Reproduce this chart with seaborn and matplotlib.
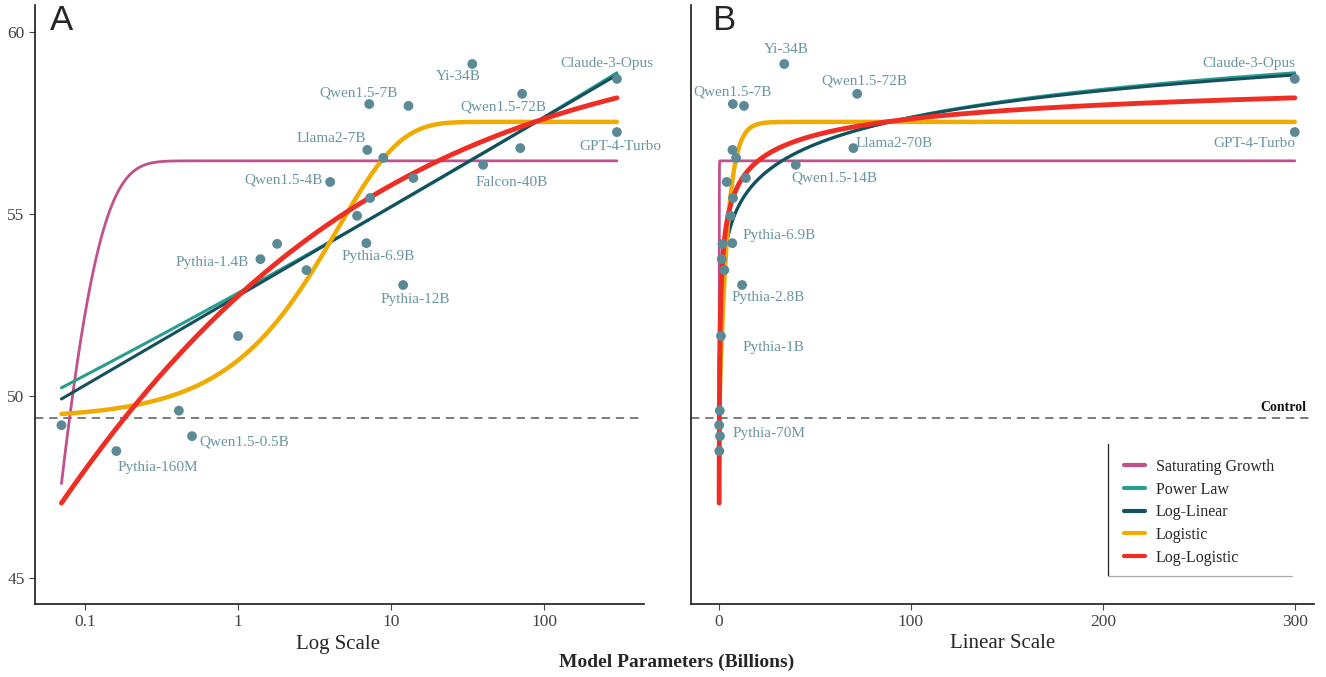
import numpy as np
import pandas as pd
import matplotlib.pyplot as plt
from matplotlib.lines import Line2D
import seaborn as sns

# Model scores
models = ["Pythia-70M", "Pythia-160M", "Pythia-410M", "Qwen1.5-0.5B", "Pythia-1B",
          "Pythia-1.4B", "Qwen1.5-1.8B", "Pythia-2.8B", "Qwen1.5-4B", "Yi-6B",
          "Pythia-6.9B", "Llama2-7B", "Qwen1.5-7B", "Mistral-7B", "Yi-9B",
          "Pythia-12B", "Llama2-13B", "Qwen1.5-14B", "Yi-34B", "Falcon-40B",
          "Llama2-70B", "Qwen1.5-72B", "Claude-3-Opus", "GPT-4-Turbo"]
params = [0.07, 0.16, 0.41, 0.5, 1.0, 1.4, 1.8, 2.8, 4.0, 6.0, 6.9, 7.0, 7.2, 7.3, 8.9,
          12.0, 13.0, 14.0, 34.0, 40.0, 70.0, 72.0, 300.0, 300.0]
scores = [49.2, 48.49, 49.6, 48.9, 51.65, 53.76, 54.18, 53.46, 55.88, 54.95,
          54.2, 56.76, 58.02, 55.44, 56.54, 53.05, 57.97, 55.99, 59.12, 56.35,
          56.81, 58.3, 58.71, 57.25]
control = 49.4

# labels shown on each panel, with offsets in pixels
labels_a = {"Claude-3-Opus": (-10, 15), "Yi-34B": (-14, -13), "Qwen1.5-7B": (-11, 11),
            "Qwen1.5-72B": (-19, -13), "Llama2-7B": (-36, 11), "GPT-4-Turbo": (3, -14),
            "Qwen1.5-4B": (-47, 2), "Falcon-40B": (29, -18), "Pythia-1.4B": (-48, -3),
            "Pythia-6.9B": (12, -13), "Pythia-12B": (12, -14), "Qwen1.5-0.5B": (52, -6),
            "Pythia-160M": (41, -16)}
labels_b = {"Yi-34B": (2, 14), "Qwen1.5-7B": (0, 12), "Qwen1.5-72B": (7, 13),
            "Llama2-70B": (41, 5), "Qwen1.5-14B": (88, 0), "Pythia-6.9B": (47, 8),
            "Pythia-2.8B": (44, -27), "Pythia-1B": (53, -12), "Pythia-70M": (50, -8),
            "Claude-3-Opus": (-46, 15), "GPT-4-Turbo": (-40, -11)}

# fitted curve parameters (estimated from the chart)
fit_names = ["Saturating Growth", "Power Law", "Log-Linear", "Logistic", "Log-Logistic"]
fit_colors = ["#c1508c", "#2a9d8f", "#15505f", "#efab00", "#ee2e24"]
fit_widths = [2.0, 2.2, 2.2, 3.2, 3.5]
sat_a, sat_b, sat_c = 56.46, 51.0, 25.0
pow_a, pow_b = 52.83, 0.019
loglin_a, loglin_b = 52.75, 2.45
logi_L, logi_k, logi_x0 = 57.53, 0.25, -7.21
ll_d, ll_b, ll_m = 60.0, 0.6, -3.307

df = pd.DataFrame({"model": models, "params": params, "score": scores})

xs = np.geomspace(min(params), max(params), 800)
fits = {
    "Saturating Growth": sat_a - sat_b * np.exp(-sat_c * xs),
    "Power Law": pow_a * xs ** pow_b,
    "Log-Linear": loglin_a + loglin_b * np.log10(xs),
    "Logistic": logi_L / (1 + np.exp(-logi_k * (xs - logi_x0))),
    "Log-Logistic": ll_d / (1 + np.exp(-ll_b * (np.log10(xs) - ll_m))),
}
curves = pd.concat([pd.DataFrame({"params": xs, "score": fits[n], "fit": n}) for n in fit_names])

sns.set_theme(style="ticks")
plt.rcParams["font.family"] = ["Liberation Serif", "DejaVu Serif"]

fig = plt.figure(figsize=(13.26, 6.77), dpi=100)
ax_a = fig.add_axes([35 / 1326, 73 / 677, 609 / 1326, 599 / 677])
ax_b = fig.add_axes([691 / 1326, 73 / 677, 623 / 1326, 599 / 677])

point_color = "#5b8a96"
label_color = "#6a95a0"

for ax, labs in [(ax_a, labels_a), (ax_b, labels_b)]:
    ax.axhline(control, color="#666666", lw=1.2, ls=(0, (5, 3.5)), zorder=1)
    for name, col, lw in zip(fit_names, fit_colors, fit_widths):
        sns.lineplot(data=curves[curves["fit"] == name], x="params", y="score",
                     color=col, lw=lw, ax=ax, label=name, zorder=2, sort=False)
    sns.scatterplot(data=df, x="params", y="score", color=point_color, s=50,
                    edgecolor="none", ax=ax, zorder=3, legend=False)
    for name, (dx, dy) in labs.items():
        row = df[df["model"] == name].iloc[0]
        ax.annotate(name, (row["params"], row["score"]), xytext=(dx, dy),
                    textcoords="offset pixels", ha="center", va="center",
                    color=label_color, fontsize=11)
    ax.set_ylim(44.29, 60.74)
    ax.set_xlabel("")
    ax.set_ylabel("")
    for s in ["top", "right"]:
        ax.spines[s].set_visible(False)
    ax.spines["left"].set_color("#222222")
    ax.spines["bottom"].set_color("#222222")
    ax.tick_params(direction="out", length=4, width=0.8, labelsize=12.5,
                   colors="#444444")

# panel A: log scale
ax_a.set_xscale("log")
ax_a.set_xlim(0.047, 451)
ax_a.set_xticks([0.1, 1, 10, 100])
ax_a.set_xticklabels(["0.1", "1", "10", "100"])
ax_a.minorticks_off()
ax_a.set_yticks([45, 50, 55, 60])
ax_a.get_legend().remove()

# panel B: linear scale
ax_b.set_xlim(-14.6, 310)
ax_b.set_xticks([0, 100, 200, 300])
ax_b.set_yticks([])
ax_b.text(0.988, control + 0.12, "Control", transform=ax_b.get_yaxis_transform(),
          ha="right", va="bottom", fontsize=10, fontweight="bold", color="#111111")

leg = ax_b.legend(loc="lower left", bbox_to_anchor=(0.672, 0.04), frameon=False,
                  fontsize=11.5, handlelength=1.3, handletextpad=0.7, labelspacing=0.42)
for h in leg.get_lines():
    h.set_linewidth(3)
ax_b.add_artist(Line2D([0.669, 0.669], [0.047, 0.267], transform=ax_b.transAxes,
                       color="#222222", lw=0.9))
ax_b.add_artist(Line2D([0.669, 0.965], [0.047, 0.047], transform=ax_b.transAxes,
                       color="#aaaaaa", lw=0.9))

fig.text(50 / 1326, 1 - 21 / 677, "A", family="Liberation Sans", fontsize=25,
         va="center", ha="left")
fig.text(712 / 1326, 1 - 21 / 677, "B", family="Liberation Sans", fontsize=25,
         va="center", ha="left")
fig.text(338 / 1326, 1 - 644 / 677, "Log Scale", fontsize=15, ha="center", va="center")
fig.text(1003 / 1326, 1 - 644 / 677, "Linear Scale", fontsize=15, ha="center", va="center")
fig.text(677 / 1326, 1 - 662 / 677, "Model Parameters (Billions)", fontsize=14,
         fontweight="bold", ha="center", va="center")

fig.savefig("out.png", dpi=100)
